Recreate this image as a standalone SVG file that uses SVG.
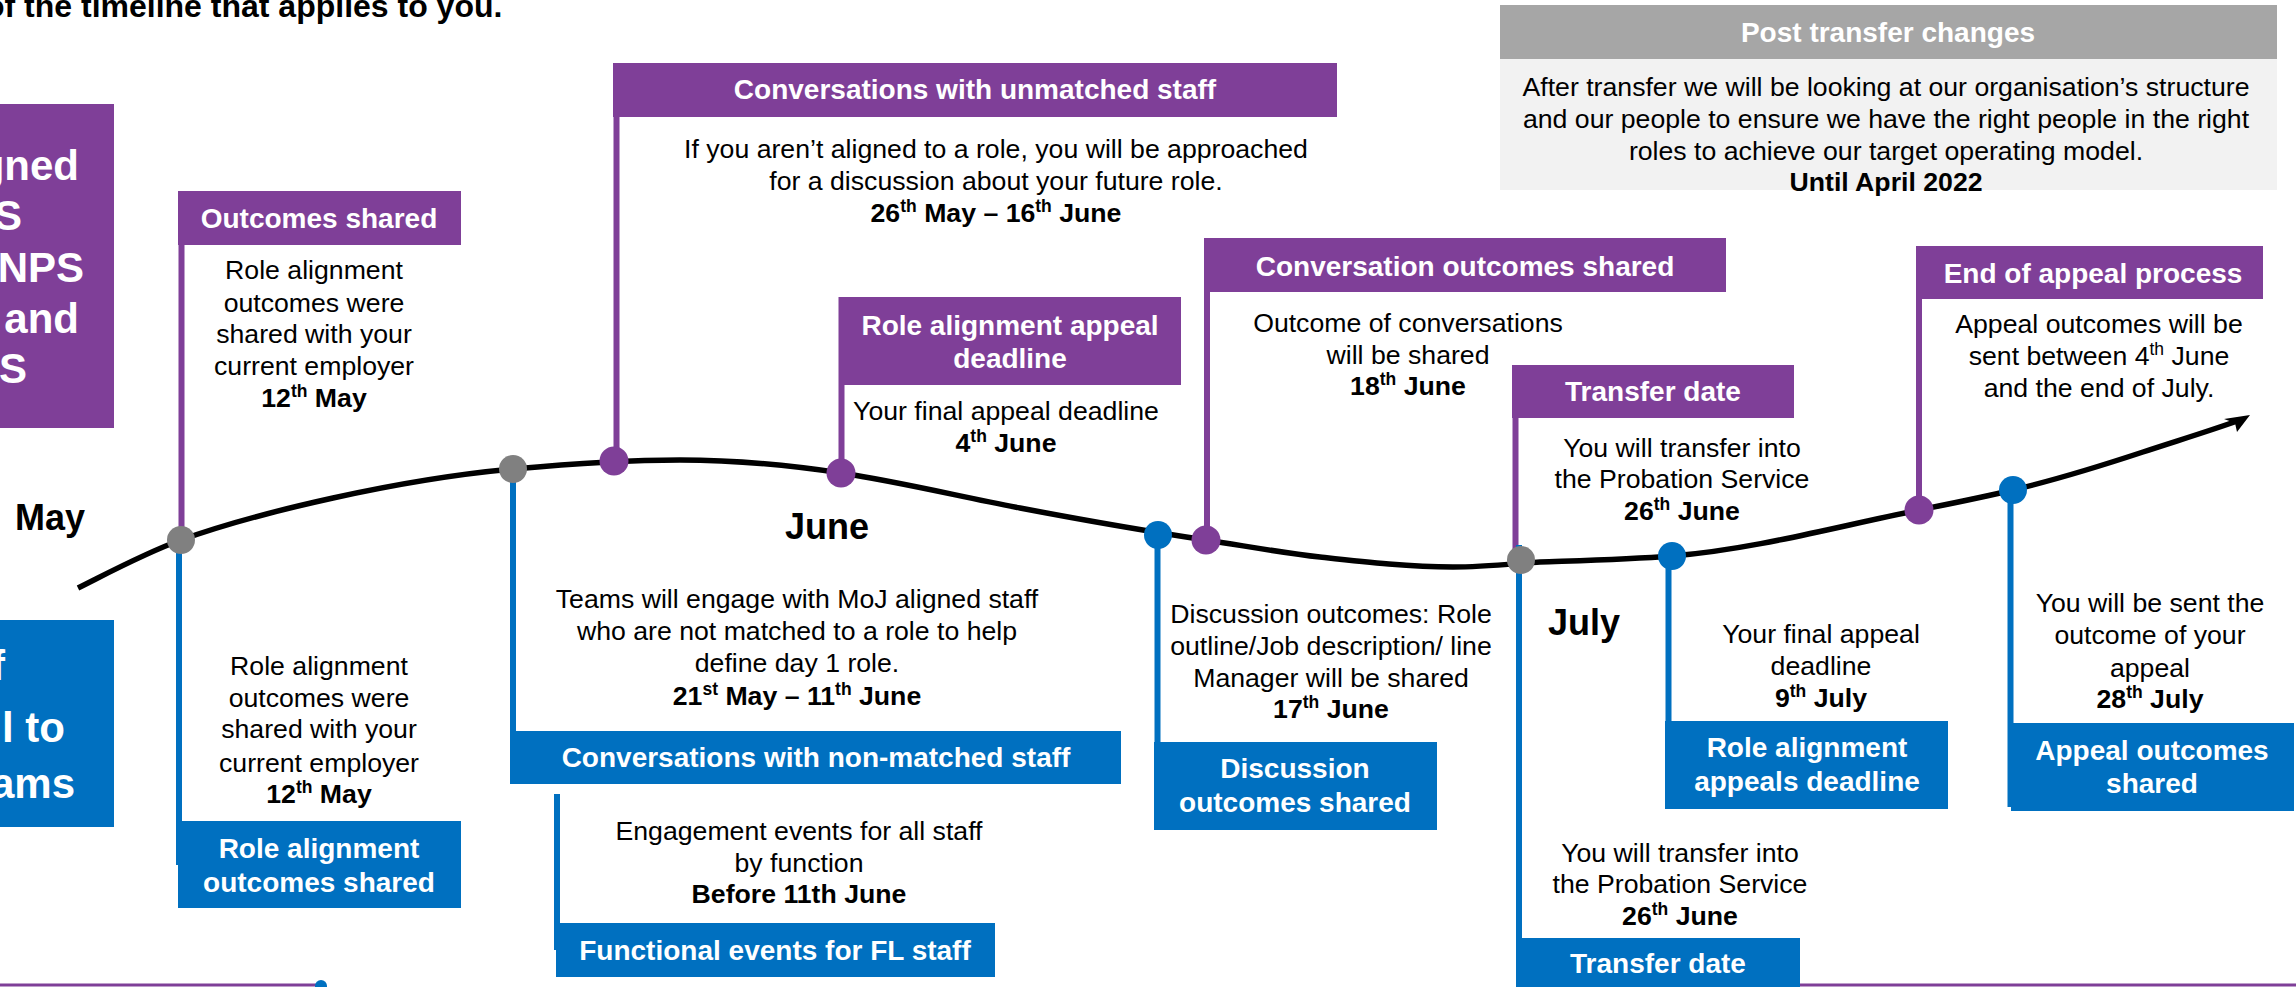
<svg xmlns="http://www.w3.org/2000/svg" width="2296" height="987" viewBox="0 0 2296 987">
<style>
.hp{fill:#7F3F98}
.hb{fill:#0070C0}
.ht{font-family:'Liberation Sans',Arial,sans-serif;font-weight:bold;font-size:28px;fill:#fff;text-anchor:middle}
.bt{font-family:'Liberation Sans',Arial,sans-serif;font-size:26.67px;fill:#000;text-anchor:middle}
.bd{font-weight:bold}
.sup{font-size:17.5px}
.big{font-family:'Liberation Sans',Arial,sans-serif;font-weight:bold;font-size:42px;fill:#fff;text-anchor:end}
.mon{font-family:'Liberation Sans',Arial,sans-serif;font-weight:bold;font-size:36px;fill:#000}
.sp{stroke:#7F3F98;stroke-width:6;fill:none}
.sb{stroke:#0070C0;stroke-width:6;fill:none}
.dp{fill:#7F3F98}
.db{fill:#0070C0}
.dg{fill:#808080}
</style>
<rect width="2296" height="987" fill="#fff"/>

<g id="title">
<text x="-15" y="17" font-family="'Liberation Sans',Arial,sans-serif" font-weight="bold" font-size="32" fill="#000">of the timeline that applies to you.</text>
</g>

<g id="connectors">
<path d="M78,588 C112.3,570.8 146.7,552.3 181,540 C231.7,521.7 282.3,509.2 333,498 C393,484.8 453,474.4 513,469 C568.7,464 624.3,460 680,460 C733.7,460 787.3,464.9 841,473 C900.7,482 960.3,496.7 1020,508 C1082,519.8 1144,530.7 1206,540 C1244,545.7 1282,552.8 1320,557 C1364.3,561.9 1408.7,567 1453,567 C1482,567 1511,564 1540,562 C1584,560.5 1628,559.5 1672,556 C1754.3,549.4 1836.7,526.5 1919,510 C1950.3,503.7 1981.7,497.5 2013,490 C2056.3,479.6 2099.7,466.3 2143,452 C2175.3,441.3 2207.7,431.6 2240,420" stroke="#000" stroke-width="5.5" fill="none"/>
<polygon points="2250,415 2237,432 2235,423 2224,419" fill="#000"/>
<line class="sp" x1="181.5" y1="191" x2="181.5" y2="540"/>
<line class="sp" x1="616.5" y1="63" x2="616.5" y2="461"/>
<line class="sp" x1="841.5" y1="297" x2="841.5" y2="473"/>
<line class="sp" x1="1207" y1="238" x2="1207" y2="540"/>
<line class="sp" x1="1515.5" y1="365" x2="1515.5" y2="552"/>
<line class="sp" x1="1919" y1="246" x2="1919" y2="510"/>
<line class="sb" x1="179" y1="540" x2="179" y2="865"/>
<line class="sb" x1="513" y1="469" x2="513" y2="757"/>
<line class="sb" x1="557" y1="794" x2="557" y2="950"/>
<line class="sb" x1="1157.5" y1="535" x2="1157.5" y2="782"/>
<line class="sb" x1="1519" y1="545" x2="1519" y2="950"/>
<line class="sb" x1="1668.5" y1="556" x2="1668.5" y2="765"/>
<line class="sb" x1="2010.5" y1="490" x2="2010.5" y2="807"/>
<line x1="0" y1="985" x2="320" y2="985" stroke="#7F3F98" stroke-width="3"/>
<circle cx="321" cy="986" r="6" class="db"/>
<line x1="1800" y1="985" x2="2296" y2="985" stroke="#7F3F98" stroke-width="3"/>
<circle cx="181" cy="540" r="14" class="dg"/>
<circle cx="513" cy="469" r="14" class="dg"/>
<circle cx="1521" cy="560" r="14" class="dg"/>
<circle cx="614" cy="461" r="14.5" class="dp"/>
<circle cx="841" cy="473" r="14.5" class="dp"/>
<circle cx="1206" cy="540" r="14.5" class="dp"/>
<circle cx="1919" cy="510" r="14.5" class="dp"/>
<circle cx="1158" cy="535" r="14" class="db"/>
<circle cx="1672" cy="556" r="14" class="db"/>
<circle cx="2013" cy="490" r="14" class="db"/>
</g>

<g id="months">
<text class="mon" x="15" y="530">May</text>
<text class="mon" x="785" y="539">June</text>
<text class="mon" x="1548" y="635">July</text>
</g>

<g id="left-purple">
<rect x="-5" y="104" width="119" height="324" class="hp"/>
<text class="big" x="79" y="180">gned</text>
<text class="big" x="22" y="230">S</text>
<text class="big" x="84" y="282">NPS</text>
<text class="big" x="79" y="333">and</text>
<text class="big" x="27" y="383">S</text>
</g>

<g id="left-blue">
<rect x="-5" y="620" width="119" height="207" class="hb"/>
<text class="big" x="5" y="680">f</text>
<text class="big" x="65" y="742">l to</text>
<text class="big" x="75" y="798">ams</text>
</g>

<g id="outcomes-shared">
<rect x="178" y="191" width="283" height="54" class="hp"/>
<text class="ht" x="319" y="228">Outcomes shared</text>
<text class="bt" x="314" y="279">Role alignment</text>
<text class="bt" x="314" y="312">outcomes were</text>
<text class="bt" x="314" y="343">shared with your</text>
<text class="bt" x="314" y="375">current employer</text>
<text class="bt bd" x="314" y="407">12<tspan class="sup" dy="-10">th</tspan><tspan dy="10"> May</tspan></text>
</g>

<g id="unmatched-staff">
<rect x="613" y="63" width="724" height="54" class="hp"/>
<text class="ht" x="975" y="99">Conversations with unmatched staff</text>
<text class="bt" x="996" y="158">If you aren’t aligned to a role, you will be approached</text>
<text class="bt" x="996" y="190">for a discussion about your future role.</text>
<text class="bt bd" x="996" y="222">26<tspan class="sup" dy="-10">th</tspan><tspan dy="10"> May – 16</tspan><tspan class="sup" dy="-10">th</tspan><tspan dy="10"> June</tspan></text>
</g>

<g id="appeal-deadline">
<rect x="839" y="297" width="342" height="88" class="hp"/>
<text class="ht" x="1010" y="335">Role alignment appeal</text>
<text class="ht" x="1010" y="368">deadline</text>
<text class="bt" x="1006" y="420">Your final appeal deadline</text>
<text class="bt bd" x="1006" y="452">4<tspan class="sup" dy="-10">th</tspan><tspan dy="10"> June</tspan></text>
</g>

<g id="conversation-outcomes">
<rect x="1204" y="238" width="522" height="54" class="hp"/>
<text class="ht" x="1465" y="276">Conversation outcomes shared</text>
<text class="bt" x="1408" y="332">Outcome of conversations</text>
<text class="bt" x="1408" y="364">will be shared</text>
<text class="bt bd" x="1408" y="395">18<tspan class="sup" dy="-10">th</tspan><tspan dy="10"> June</tspan></text>
</g>

<g id="transfer-date-purple">
<rect x="1512" y="365" width="282" height="53" class="hp"/>
<text class="ht" x="1653" y="401">Transfer date</text>
<text class="bt" x="1682" y="457">You will transfer into</text>
<text class="bt" x="1682" y="488">the Probation Service</text>
<text class="bt bd" x="1682" y="520">26<tspan class="sup" dy="-10">th</tspan><tspan dy="10"> June</tspan></text>
</g>

<g id="end-of-appeal">
<rect x="1922" y="246" width="341" height="53" class="hp"/>
<text class="ht" x="2093" y="283">End of appeal process</text>
<text class="bt" x="2099" y="333">Appeal outcomes will be</text>
<text class="bt" x="2099" y="365">sent between 4<tspan class="sup" dy="-10">th</tspan><tspan dy="10"> June</tspan></text>
<text class="bt" x="2099" y="397">and the end of July.</text>
</g>

<g id="post-transfer">
<rect x="1500" y="5" width="777" height="54" fill="#A6A6A6"/>
<rect x="1500" y="59" width="777" height="131" fill="#F2F2F2"/>
<text class="ht" x="1888" y="42">Post transfer changes</text>
<text class="bt" x="1886" y="96">After transfer we will be looking at our organisation’s structure</text>
<text class="bt" x="1886" y="128">and our people to ensure we have the right people in the right</text>
<text class="bt" x="1886" y="160">roles to achieve our target operating model.</text>
<text class="bt bd" x="1886" y="191">Until April 2022</text>
</g>

<g id="role-outcomes-shared">
<rect x="178" y="821" width="283" height="87" class="hb"/>
<text class="ht" x="319" y="858">Role alignment</text>
<text class="ht" x="319" y="892">outcomes shared</text>
<text class="bt" x="319" y="675">Role alignment</text>
<text class="bt" x="319" y="707">outcomes were</text>
<text class="bt" x="319" y="738">shared with your</text>
<text class="bt" x="319" y="772">current employer</text>
<text class="bt bd" x="319" y="803">12<tspan class="sup" dy="-10">th</tspan><tspan dy="10"> May</tspan></text>
</g>

<g id="non-matched-staff">
<rect x="510" y="731" width="611" height="53" class="hb"/>
<text class="ht" x="816" y="767">Conversations with non-matched staff</text>
<text class="bt" x="797" y="608">Teams will engage with MoJ aligned staff</text>
<text class="bt" x="797" y="640">who are not matched to a role to help</text>
<text class="bt" x="797" y="672">define day 1 role.</text>
<text class="bt bd" x="797" y="705">21<tspan class="sup" dy="-10">st</tspan><tspan dy="10"> May – 11</tspan><tspan class="sup" dy="-10">th</tspan><tspan dy="10"> June</tspan></text>
</g>

<g id="functional-events">
<rect x="556" y="923" width="439" height="54" class="hb"/>
<text class="ht" x="775" y="960">Functional events for FL staff</text>
<text class="bt" x="799" y="840">Engagement events for all staff</text>
<text class="bt" x="799" y="872">by function</text>
<text class="bt bd" x="799" y="903">Before 11th June</text>
</g>

<g id="discussion-outcomes">
<rect x="1154" y="742" width="283" height="88" class="hb"/>
<text class="ht" x="1295" y="778">Discussion</text>
<text class="ht" x="1295" y="812">outcomes shared</text>
<text class="bt" x="1331" y="623">Discussion outcomes: Role</text>
<text class="bt" x="1331" y="655">outline/Job description/ line</text>
<text class="bt" x="1331" y="687">Manager will be shared</text>
<text class="bt bd" x="1331" y="718">17<tspan class="sup" dy="-10">th</tspan><tspan dy="10"> June</tspan></text>
</g>

<g id="transfer-date-blue">
<rect x="1516" y="938" width="284" height="52" class="hb"/>
<text class="ht" x="1658" y="973">Transfer date</text>
<text class="bt" x="1680" y="862">You will transfer into</text>
<text class="bt" x="1680" y="893">the Probation Service</text>
<text class="bt bd" x="1680" y="925">26<tspan class="sup" dy="-10">th</tspan><tspan dy="10"> June</tspan></text>
</g>

<g id="appeals-deadline">
<rect x="1665" y="721" width="283" height="88" class="hb"/>
<text class="ht" x="1807" y="757">Role alignment</text>
<text class="ht" x="1807" y="791">appeals deadline</text>
<text class="bt" x="1821" y="643">Your final appeal</text>
<text class="bt" x="1821" y="675">deadline</text>
<text class="bt bd" x="1821" y="707">9<tspan class="sup" dy="-10">th</tspan><tspan dy="10"> July</tspan></text>
</g>

<g id="appeal-outcomes-shared">
<rect x="2011" y="723" width="283" height="88" class="hb"/>
<text class="ht" x="2152" y="760">Appeal outcomes</text>
<text class="ht" x="2152" y="793">shared</text>
<text class="bt" x="2150" y="612">You will be sent the</text>
<text class="bt" x="2150" y="644">outcome of your</text>
<text class="bt" x="2150" y="677">appeal</text>
<text class="bt bd" x="2150" y="708">28<tspan class="sup" dy="-10">th</tspan><tspan dy="10"> July</tspan></text>
</g>
</svg>
